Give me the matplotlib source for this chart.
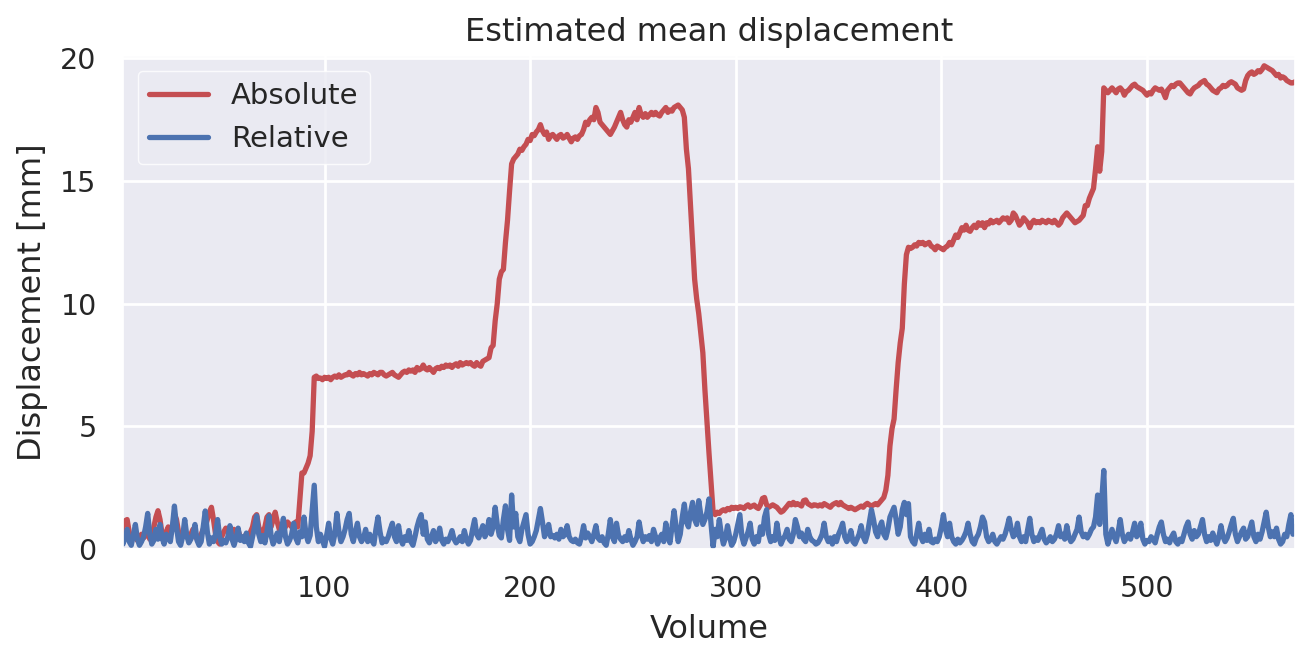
import numpy as np
import matplotlib
matplotlib.use("Agg")
import matplotlib.pyplot as plt
import seaborn as sns

# Absolute displacement [mm], volumes 1..572
absolute = [
    0.6, 0.9, 1.15, 1.2, 0.7, 0.4, 0.5, 0.45, 0.35, 0.5,
    0.6, 0.45, 0.55, 0.7, 0.4, 0.5, 0.9, 1.3, 1.56, 1.2,
    0.6, 0.45, 0.7, 0.9, 0.6, 0.8, 1.43, 1.2, 0.7, 0.5,
    0.6, 0.8, 0.5, 0.4, 0.6, 0.8, 0.55, 0.4, 0.5, 0.6,
    0.8, 0.9, 1.2, 1.5, 1.7, 1.2, 0.6, 0.3, 0.2, 0.5,
    0.7, 0.85, 0.8, 0.9, 0.7, 0.8, 0.6, 0.75, 0.5, 0.45,
    0.5, 0.6, 0.55, 0.7, 0.9, 1.3, 1.4, 0.9, 0.6, 0.7,
    0.9, 1.3, 1.4, 0.9, 1.2, 1.5, 1.1, 0.8, 0.9, 0.85,
    0.9, 1.1, 1.0, 0.9, 1.0, 1.1, 0.9, 2.0, 3.1, 3.1,
    3.3, 3.5, 3.8, 4.8, 7.0, 7.05, 6.95, 6.97, 6.9, 7.0,
    6.95, 7.0, 6.9, 7.0, 7.05, 7.0, 7.1, 7.0, 7.05, 7.1,
    7.1, 7.2, 7.1, 7.05, 7.15, 7.1, 7.2, 7.1, 7.15, 7.1,
    7.05, 7.15, 7.1, 7.2, 7.15, 7.1, 7.2, 7.2, 7.1, 7.05,
    7.1, 7.15, 7.2, 7.1, 7.05, 7.0, 7.1, 7.2, 7.25, 7.2,
    7.3, 7.25, 7.3, 7.2, 7.4, 7.3, 7.35, 7.5, 7.35, 7.3,
    7.4, 7.3, 7.2, 7.35, 7.4, 7.35, 7.45, 7.4, 7.5, 7.45,
    7.5, 7.4, 7.5, 7.55, 7.45, 7.6, 7.5, 7.55, 7.6, 7.55,
    7.6, 7.5, 7.45, 7.6, 7.5, 7.45, 7.65, 7.7, 7.75, 7.8,
    8.2, 8.3, 9.3, 10.0, 11.0, 11.3, 11.4, 12.5, 13.4, 14.6,
    15.7, 15.9, 16.0, 16.1, 16.3, 16.25, 16.4, 16.5, 16.7, 16.65,
    16.9, 16.85, 17.0, 17.1, 17.3, 17.05, 16.9, 17.0, 16.7, 16.85,
    16.9, 16.8, 16.7, 16.85, 16.9, 16.75, 16.8, 16.9, 16.75, 16.6,
    16.75, 16.8, 16.7, 16.85, 16.9, 17.1, 17.4, 17.3, 17.5, 17.6,
    17.5, 18.0, 17.8, 17.4, 17.3, 17.2, 17.1, 17.0, 16.9, 17.05,
    17.2, 17.4, 17.6, 17.8, 17.5, 17.3, 17.2, 17.5, 17.4, 17.6,
    17.8, 17.5, 18.0, 17.7, 17.6, 17.75, 17.6, 17.7, 17.8, 17.7,
    17.8, 17.7, 17.65, 17.8, 17.9, 18.0, 17.8, 17.9, 17.85, 18.0,
    18.05, 18.1, 18.0, 17.9, 17.6, 16.3, 15.5, 14.0, 12.5, 11.0,
    10.2, 9.6, 8.8, 8.0, 6.5, 5.2, 3.9, 2.7, 1.5, 1.4,
    1.5, 1.45, 1.55, 1.6, 1.55, 1.65, 1.6, 1.7, 1.65, 1.7,
    1.65, 1.72, 1.7, 1.65, 1.75, 1.8, 1.7, 1.75, 1.79, 1.7,
    1.65, 1.8, 2.06, 2.1, 1.8, 1.7, 1.75, 1.8, 1.75, 1.7,
    1.6, 1.5, 1.55, 1.65, 1.75, 1.86, 1.8, 1.9, 1.8, 1.85,
    1.8, 1.75, 1.97, 2.0, 1.85, 1.8, 1.75, 1.8, 1.79, 1.75,
    1.8, 1.75, 1.85, 1.8, 1.75, 1.7, 1.8, 1.85, 1.89, 1.8,
    1.9, 1.8, 1.75, 1.7, 1.65, 1.7, 1.65, 1.6, 1.65, 1.7,
    1.75, 1.7, 1.8, 1.86, 1.8, 1.75, 1.8, 1.85, 1.8, 1.9,
    2.0, 2.1, 2.4, 3.0, 4.2, 4.9, 5.3, 6.5, 7.6, 8.4,
    9.0, 10.8, 12.0, 12.3, 12.25, 12.3, 12.4, 12.35, 12.5, 12.45,
    12.5, 12.4, 12.45, 12.5, 12.35, 12.3, 12.2, 12.35, 12.3, 12.25,
    12.2, 12.3, 12.35, 12.5, 12.4, 12.6, 12.8, 12.7, 12.9, 13.1,
    13.0, 13.2, 13.0, 12.95, 13.1, 13.2, 13.1, 13.3, 13.2, 13.3,
    13.1, 13.3, 13.25, 13.4, 13.3, 13.35, 13.4, 13.3, 13.4, 13.5,
    13.45, 13.5, 13.3, 13.4, 13.7, 13.6, 13.4, 13.2, 13.3, 13.5,
    13.4, 13.3, 13.1, 13.3, 13.4, 13.3, 13.35, 13.3, 13.4, 13.35,
    13.3, 13.4, 13.35, 13.3, 13.4, 13.3, 13.2, 13.3, 13.5, 13.6,
    13.7, 13.6, 13.5, 13.4, 13.3, 13.35, 13.4, 13.5, 13.6, 14.0,
    14.0, 14.3, 14.5, 14.7, 15.5, 16.4, 15.4, 16.2, 18.8, 18.7,
    18.6, 18.7, 18.8, 18.7, 18.6, 18.75, 18.8, 18.7, 18.5, 18.65,
    18.7, 18.8, 18.9, 18.95, 18.85, 18.8, 18.75, 18.7, 18.6, 18.5,
    18.6, 18.55, 18.7, 18.8, 18.75, 18.7, 18.75, 18.6, 18.4, 18.7,
    18.8, 18.9, 18.85, 18.95, 19.0, 19.0, 18.9, 18.8, 18.7, 18.6,
    18.55, 18.7, 18.8, 18.85, 18.9, 19.0, 19.05, 19.1, 18.95, 18.9,
    18.8, 18.7, 18.65, 18.6, 18.75, 18.8, 18.9, 18.85, 18.9, 19.0,
    19.05, 19.0, 18.95, 18.8, 18.75, 18.7, 18.75, 19.1, 19.3, 19.4,
    19.45, 19.35, 19.4, 19.5, 19.45, 19.55, 19.7, 19.65, 19.6, 19.55,
    19.5, 19.4, 19.3, 19.35, 19.2, 19.25, 19.2, 19.1, 19.05, 19.0,
    19.0, 19.05,
]

# Relative (frame-to-frame) displacement [mm], volumes 1..572
relative = [
    0.45, 0.2, 0.5, 0.8, 0.3, 0.15, 0.55, 1.0, 0.4, 0.15,
    0.3, 0.5, 0.9, 1.45, 0.6, 0.2, 0.35, 0.8, 0.4, 1.0,
    0.45, 0.2, 0.6, 0.45, 0.3, 0.9, 1.75, 0.9, 0.3, 0.15,
    0.5, 1.2, 0.55, 0.25, 0.4, 0.6, 1.0, 0.35, 0.15, 0.3,
    0.9, 1.55, 0.7, 0.2, 0.45, 0.3, 0.6, 1.2, 0.5, 0.2,
    0.35, 0.25, 0.5, 0.95, 0.4, 0.15, 0.45, 0.85, 0.35, 0.5,
    0.3, 0.65, 0.25, 0.1, 0.5, 0.9, 1.35, 0.6, 0.3, 0.55,
    0.25, 0.7, 1.35, 0.55, 0.2, 0.4, 0.65, 0.3, 0.8, 1.25,
    0.5, 0.2, 0.35, 0.6, 1.05, 0.45, 0.25, 0.7, 0.5, 1.3,
    0.6, 0.3, 0.55, 1.6, 2.6, 0.9, 0.3, 0.6, 0.35, 0.1,
    0.55, 1.05, 0.45, 0.2, 0.6, 1.45, 0.7, 0.3, 0.5, 0.8,
    1.2, 1.45, 0.6, 0.3, 0.7, 1.05, 0.5, 0.3, 0.45, 0.8,
    0.3, 0.6, 0.35, 0.2, 0.8, 1.3, 0.7, 0.25, 0.4, 0.3,
    0.5, 0.8, 1.05, 0.5, 0.3, 0.95, 0.4, 0.2, 0.5, 0.35,
    0.75, 0.3, 0.15, 0.5, 0.9, 1.2, 1.4, 0.6, 1.1, 0.4,
    0.25, 0.5, 0.75, 0.3, 0.45, 0.85, 0.35, 0.2, 0.4, 0.3,
    0.5, 0.75, 0.4, 0.25, 0.35, 0.5, 0.3, 0.75, 0.4, 0.2,
    0.35, 0.8, 1.2, 0.6, 0.45, 0.7, 0.95, 0.5, 0.7, 1.2,
    0.6, 0.9, 1.7, 1.0, 0.55, 0.45, 1.2, 1.76, 0.8, 0.35,
    2.2, 0.9, 1.45, 0.5, 0.3, 0.8, 1.1, 1.4, 0.6, 0.2,
    0.3, 0.5, 0.75, 1.2, 1.65, 1.1, 0.5, 0.7, 1.0, 0.5,
    0.55, 0.45, 0.6, 0.4, 0.8, 0.5, 0.6, 0.95, 0.5, 0.35,
    0.3, 0.4, 0.25, 0.2, 0.5, 0.95, 0.45, 0.65, 0.5, 0.3,
    0.6, 0.95, 0.45, 0.35, 0.5, 0.25, 0.15, 0.6, 1.2, 0.5,
    0.3, 1.05, 0.55, 0.4, 0.3, 0.5, 0.35, 0.75, 0.4, 0.15,
    0.3, 0.5, 1.1, 0.6, 0.3, 0.5, 0.4, 0.55, 0.3, 0.8,
    0.5, 0.2, 0.45, 0.6, 0.3, 1.05, 0.5, 0.25, 0.9, 1.56,
    0.9, 0.3, 0.6, 1.3, 1.83, 1.1, 0.9, 1.5, 1.9, 1.2,
    1.0, 1.97, 1.4, 1.0, 1.2, 1.5, 2.04, 1.0, 0.1, 0.8,
    0.5, 1.2, 0.6, 0.2, 0.45, 0.95, 0.5, 0.15, 0.3, 0.6,
    1.0, 1.4, 0.5, 0.2, 0.45, 0.7, 1.05, 0.4, 0.2, 0.5,
    0.3, 0.9, 0.6, 1.3, 1.6, 0.6, 0.3, 0.5, 0.35, 1.05,
    0.5, 0.2, 0.4, 0.55, 0.8, 0.4, 0.3, 0.6, 1.2, 0.9,
    0.5, 0.65, 0.4, 0.3, 0.8, 0.5, 0.35, 0.3, 0.2, 0.25,
    0.4, 0.6, 1.05, 0.5, 0.3, 0.45, 0.2, 0.5, 0.3, 0.6,
    0.8, 1.05, 0.5, 0.3, 0.45, 0.75, 0.3, 0.2, 0.4, 0.6,
    0.95, 0.5, 0.3, 0.6, 1.1, 1.6, 1.2, 0.7, 0.5, 0.9,
    1.1, 0.6, 0.45, 0.8, 1.3, 1.5, 1.7, 1.2, 0.6, 0.9,
    1.6, 1.9, 1.4, 1.85, 0.5, 0.3, 0.2, 0.6, 1.05, 0.5,
    0.3, 0.6, 0.35, 0.8, 0.3, 0.25, 0.4, 0.3, 0.5, 0.9,
    1.4, 0.8, 0.5, 1.05, 0.5, 0.3, 0.2, 0.4, 0.25, 0.35,
    0.5, 0.7, 1.05, 0.6, 0.3, 0.2, 0.45, 0.6, 0.9, 1.3,
    1.1, 0.5, 0.3, 0.4, 0.6, 0.3, 0.2, 0.35, 0.5, 0.4,
    0.6, 0.9, 1.25, 0.8, 0.5, 0.6, 1.05, 0.5, 0.3, 0.5,
    0.3, 0.8, 1.25, 0.6, 0.3, 0.45, 0.35, 0.6, 0.8, 0.4,
    0.25, 0.35, 0.5, 0.3, 0.4, 0.6, 0.95, 0.5, 0.6, 0.4,
    0.95, 0.5, 0.3, 0.4, 0.6, 0.8, 1.3, 0.7, 0.5, 0.6,
    0.45, 0.6, 0.8, 0.9, 1.3, 2.2, 1.0, 2.0, 3.2, 0.6,
    0.2, 0.5, 0.8, 0.5, 0.3, 0.7, 1.2, 0.6, 0.3, 0.45,
    0.6, 0.4, 0.7, 1.05, 0.5, 0.6, 1.05, 0.4, 0.2, 0.35,
    0.3, 0.5, 0.4, 0.25, 0.6, 0.9, 1.1, 0.6, 0.3, 0.4,
    0.25, 0.5, 0.65, 0.3, 0.2, 0.4, 0.3, 0.6, 0.9, 1.1,
    0.6, 0.4, 0.75, 0.5, 0.6, 0.9, 1.2, 0.6, 0.3, 0.5,
    0.35, 0.65, 0.4, 0.2, 0.5, 0.95, 0.5, 0.3, 0.45, 0.7,
    1.0, 1.25, 0.6, 0.3, 0.5, 0.7, 0.85, 0.4, 0.5, 0.8,
    1.1, 0.5, 0.3, 0.6, 0.4, 0.7, 1.1, 1.5, 0.9, 0.5,
    0.7, 0.5, 0.85, 0.4, 0.2, 0.3, 0.6, 0.5, 1.0, 1.4,
    0.6, 0.9,
]

series_labels = ["Absolute", "Relative"]
x_ticks = [100, 200, 300, 400, 500]
y_ticks = [0, 5, 10, 15, 20]

sns.set_theme(style="darkgrid", color_codes=True)
plt.rcParams["font.family"] = ["DejaVu Sans"]
plt.rcParams["grid.linewidth"] = 2.0

fig = plt.figure(figsize=(12.95, 6.47), dpi=100)
ax = fig.add_axes([0.095, 0.1515, 0.905, 0.762])

xa = np.arange(1, len(absolute) + 1)
xr = np.arange(1, len(relative) + 1)
ax.plot(xa, absolute, color="r", lw=3.8, label=series_labels[0])
ax.plot(xr, relative, color="b", lw=3.8, label=series_labels[1])

ax.set_xlim(2, max(len(absolute), len(relative)))
ax.set_ylim(0, 20.1)
ax.set_xticks(x_ticks)
ax.set_yticks(y_ticks)
ax.tick_params(labelsize=20.5, length=0, pad=19)
ax.set_title("Estimated mean displacement", fontsize=23, pad=11)
ax.set_xlabel("Volume", fontsize=23, labelpad=8)
ax.set_ylabel("Displacement [mm]", fontsize=23, labelpad=9)
leg = ax.legend(loc="upper left", fontsize=21, borderaxespad=0.5,
                edgecolor="white", facecolor="#EAEAF2", framealpha=0.8)

fig.savefig("out.png", dpi=100)
